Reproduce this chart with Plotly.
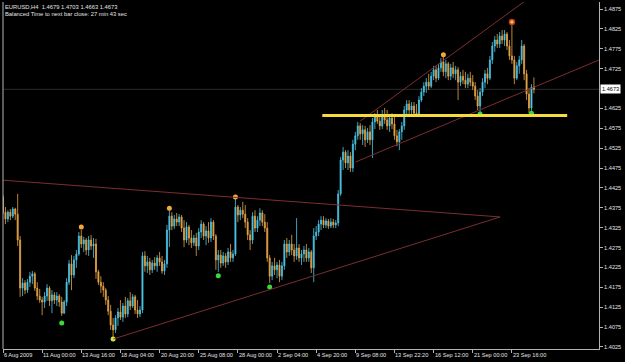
import plotly.graph_objects as go

# ---------------- data (EURUSD H4, prices) ----------------
bar_index = list(range(218))

open_ = [
1.4402,1.4364,1.4347,1.4364,1.4354,1.4372,1.4359,1.4294,1.4173,1.4186,
1.4168,1.4188,1.4203,1.4209,1.4173,1.4153,1.4143,1.4138,1.4153,1.4173,
1.4141,1.4156,1.4143,1.4153,1.4138,1.4110,1.4138,1.4188,1.4234,1.4206,
1.4244,1.4259,1.4304,1.4284,1.4294,1.4269,1.4294,1.4279,1.4284,1.4214,
1.4188,1.4178,1.4168,1.4143,1.4115,1.4080,1.4068,1.4098,1.4113,1.4100,
1.4128,1.4108,1.4141,1.4128,1.4151,1.4118,1.4108,1.4118,1.4254,1.4229,
1.4239,1.4219,1.4236,1.4229,1.4249,1.4239,1.4216,1.4234,1.4319,1.4354,
1.4329,1.4347,1.4339,1.4352,1.4324,1.4294,1.4327,1.4299,1.4287,1.4299,
1.4279,1.4314,1.4334,1.4304,1.4317,1.4299,1.4339,1.4304,1.4244,1.4256,
1.4236,1.4254,1.4239,1.4264,1.4249,1.4259,1.4377,1.4357,1.4369,1.4359,
1.4339,1.4307,1.4294,1.4354,1.4324,1.4344,1.4362,1.4339,1.4324,1.4249,
1.4203,1.4229,1.4219,1.4231,1.4203,1.4229,1.4284,1.4264,1.4284,1.4269,
1.4254,1.4274,1.4249,1.4259,1.4269,1.4249,1.4264,1.4224,1.4304,1.4314,
1.4334,1.4344,1.4332,1.4342,1.4329,1.4339,1.4332,1.4337,1.4410,1.4495,
1.4515,1.4488,1.4505,1.4475,1.4535,1.4556,1.4581,1.4561,1.4571,1.4546,
1.4566,1.4546,1.4591,1.4606,1.4593,1.4581,1.4608,1.4596,1.4581,1.4601,
1.4586,1.4556,1.4541,1.4566,1.4581,1.4621,1.4636,1.4621,1.4631,1.4613,
1.4608,1.4646,1.4666,1.4681,1.4691,1.4681,1.4706,1.4722,1.4701,1.4727,
1.4742,1.4717,1.4737,1.4706,1.4727,1.4712,1.4722,1.4691,1.4706,1.4696,
1.4686,1.4701,1.4691,1.4681,1.4656,1.4631,1.4666,1.4691,1.4712,1.4701,
1.4747,1.4782,1.4797,1.4787,1.4807,1.4797,1.4812,1.4782,1.4757,1.4747,
1.4701,1.4732,1.4747,1.4782,1.4712,1.4661,1.4626,1.4679]

high = [
1.4407,1.4377,1.4369,1.4372,1.4377,1.4375,1.4410,1.4304,1.4198,1.4193,
1.4196,1.4214,1.4216,1.4214,1.4188,1.4171,1.4151,1.4163,1.4183,1.4178,
1.4168,1.4163,1.4163,1.4158,1.4151,1.4143,1.4198,1.4244,1.4256,1.4254,
1.4269,1.4314,1.4319,1.4302,1.4299,1.4304,1.4307,1.4299,1.4297,1.4219,
1.4203,1.4188,1.4173,1.4153,1.4131,1.4098,1.4105,1.4123,1.4143,1.4136,
1.4151,1.4148,1.4163,1.4158,1.4156,1.4143,1.4128,1.4264,1.4266,1.4254,
1.4249,1.4244,1.4251,1.4256,1.4264,1.4254,1.4244,1.4332,1.4372,1.4364,
1.4357,1.4362,1.4359,1.4357,1.4344,1.4339,1.4332,1.4319,1.4307,1.4312,
1.4324,1.4344,1.4339,1.4329,1.4339,1.4349,1.4344,1.4309,1.4269,1.4269,
1.4264,1.4261,1.4274,1.4284,1.4269,1.4400,1.4382,1.4377,1.4390,1.4382,
1.4349,1.4319,1.4364,1.4369,1.4354,1.4374,1.4369,1.4359,1.4339,1.4256,
1.4239,1.4249,1.4239,1.4244,1.4239,1.4294,1.4299,1.4294,1.4307,1.4284,
1.4349,1.4284,1.4269,1.4279,1.4284,1.4274,1.4269,1.4324,1.4329,1.4344,
1.4354,1.4354,1.4349,1.4347,1.4349,1.4347,1.4344,1.4420,1.4503,1.4528,
1.4520,1.4520,1.4515,1.4546,1.4566,1.4591,1.4588,1.4583,1.4581,1.4576,
1.4583,1.4601,1.4613,1.4621,1.4608,1.4621,1.4626,1.4621,1.4608,1.4613,
1.4606,1.4571,1.4573,1.4591,1.4631,1.4646,1.4646,1.4641,1.4641,1.4636,
1.4656,1.4676,1.4691,1.4701,1.4712,1.4717,1.4732,1.4732,1.4737,1.4752,
1.4759,1.4747,1.4742,1.4737,1.4742,1.4732,1.4729,1.4717,1.4722,1.4717,
1.4712,1.4717,1.4709,1.4691,1.4671,1.4676,1.4701,1.4722,1.4727,1.4757,
1.4792,1.4807,1.4812,1.4817,1.4822,1.4822,1.4817,1.4797,1.4835,1.4757,
1.4742,1.4757,1.4797,1.4787,1.4722,1.4676,1.4686,1.4703]

low = [
1.4359,1.4334,1.4339,1.4344,1.4349,1.4344,1.4279,1.4151,1.4153,1.4158,
1.4161,1.4176,1.4183,1.4166,1.4143,1.4136,1.4105,1.4123,1.4141,1.4128,
1.4110,1.4133,1.4128,1.4126,1.4103,1.4108,1.4128,1.4181,1.4168,1.4198,
1.4224,1.4254,1.4274,1.4264,1.4256,1.4254,1.4269,1.4249,1.4196,1.4181,
1.4161,1.4151,1.4131,1.4105,1.4068,1.4048,1.4060,1.4078,1.4093,1.4088,
1.4098,1.4100,1.4118,1.4123,1.4108,1.4098,1.4100,1.4110,1.4214,1.4211,
1.4206,1.4211,1.4219,1.4214,1.4229,1.4209,1.4206,1.4224,1.4276,1.4319,
1.4322,1.4329,1.4329,1.4314,1.4276,1.4287,1.4281,1.4274,1.4279,1.4254,
1.4269,1.4299,1.4294,1.4281,1.4287,1.4289,1.4294,1.4219,1.4214,1.4224,
1.4229,1.4224,1.4231,1.4239,1.4239,1.4254,1.4339,1.4344,1.4349,1.4324,
1.4294,1.4269,1.4284,1.4314,1.4314,1.4329,1.4329,1.4314,1.4239,1.4186,
1.4193,1.4206,1.4198,1.4188,1.4193,1.4219,1.4249,1.4254,1.4256,1.4239,
1.4244,1.4239,1.4231,1.4239,1.4239,1.4239,1.4211,1.4188,1.4294,1.4304,
1.4319,1.4324,1.4324,1.4322,1.4324,1.4324,1.4324,1.4329,1.4405,1.4470,
1.4475,1.4470,1.4465,1.4465,1.4520,1.4546,1.4546,1.4533,1.4528,1.4538,
1.4533,1.4500,1.4573,1.4586,1.4571,1.4573,1.4586,1.4571,1.4566,1.4573,
1.4546,1.4530,1.4520,1.4546,1.4571,1.4606,1.4611,1.4606,1.4608,1.4606,
1.4606,1.4641,1.4656,1.4664,1.4671,1.4676,1.4696,1.4691,1.4696,1.4717,
1.4706,1.4701,1.4696,1.4696,1.4701,1.4696,1.4646,1.4681,1.4686,1.4676,
1.4676,1.4681,1.4671,1.4646,1.4621,1.4613,1.4656,1.4676,1.4686,1.4696,
1.4737,1.4767,1.4777,1.4777,1.4787,1.4782,1.4772,1.4747,1.4737,1.4686,
1.4696,1.4712,1.4737,1.4696,1.4646,1.4613,1.4613,1.4663]

close = [
1.4364,1.4347,1.4364,1.4354,1.4372,1.4359,1.4294,1.4173,1.4186,1.4168,
1.4188,1.4203,1.4209,1.4173,1.4153,1.4143,1.4138,1.4153,1.4173,1.4141,
1.4156,1.4143,1.4153,1.4138,1.4110,1.4138,1.4188,1.4234,1.4206,1.4244,
1.4259,1.4304,1.4284,1.4294,1.4269,1.4294,1.4279,1.4284,1.4214,1.4188,
1.4178,1.4168,1.4143,1.4115,1.4080,1.4068,1.4098,1.4113,1.4100,1.4128,
1.4108,1.4141,1.4128,1.4151,1.4118,1.4108,1.4118,1.4254,1.4229,1.4239,
1.4219,1.4236,1.4229,1.4249,1.4239,1.4216,1.4234,1.4319,1.4354,1.4329,
1.4347,1.4339,1.4352,1.4324,1.4294,1.4327,1.4299,1.4287,1.4299,1.4279,
1.4314,1.4334,1.4304,1.4317,1.4299,1.4339,1.4304,1.4244,1.4256,1.4236,
1.4254,1.4239,1.4264,1.4249,1.4259,1.4377,1.4357,1.4369,1.4359,1.4339,
1.4307,1.4294,1.4354,1.4324,1.4344,1.4362,1.4339,1.4324,1.4249,1.4203,
1.4229,1.4219,1.4231,1.4203,1.4229,1.4284,1.4264,1.4284,1.4269,1.4254,
1.4274,1.4249,1.4259,1.4269,1.4249,1.4264,1.4224,1.4304,1.4314,1.4334,
1.4344,1.4332,1.4342,1.4329,1.4339,1.4332,1.4337,1.4410,1.4495,1.4515,
1.4488,1.4505,1.4475,1.4535,1.4556,1.4581,1.4561,1.4571,1.4546,1.4566,
1.4546,1.4591,1.4606,1.4593,1.4581,1.4608,1.4596,1.4581,1.4601,1.4586,
1.4556,1.4541,1.4566,1.4581,1.4621,1.4636,1.4621,1.4631,1.4613,1.4608,
1.4646,1.4666,1.4681,1.4691,1.4681,1.4706,1.4722,1.4701,1.4727,1.4742,
1.4717,1.4737,1.4706,1.4727,1.4712,1.4722,1.4691,1.4706,1.4696,1.4686,
1.4701,1.4691,1.4681,1.4656,1.4631,1.4666,1.4691,1.4712,1.4701,1.4747,
1.4782,1.4797,1.4787,1.4807,1.4797,1.4812,1.4782,1.4757,1.4747,1.4701,
1.4732,1.4747,1.4782,1.4712,1.4661,1.4626,1.4679,1.4673]

# time axis labels (every 16 bars)
date_tick_bars = [0, 16, 32, 48, 64, 80, 96, 112, 128, 144, 160, 176, 192, 208]
date_tick_labels = ["6 Aug 2009", "11 Aug 00:00", "13 Aug 16:00", "18 Aug 04:00",
                    "20 Aug 20:00", "25 Aug 08:00", "28 Aug 00:00", "2 Sep 04:00",
                    "4 Sep 20:00", "9 Sep 08:00", "13 Sep 22:20", "16 Sep 12:00",
                    "21 Sep 00:00", "23 Sep 16:00"]

# price axis ticks
price_ticks = [1.4025, 1.4075, 1.4125, 1.4175, 1.4225, 1.4275, 1.4325, 1.4375,
               1.4425, 1.4475, 1.4525, 1.4575, 1.4625, 1.4725, 1.4775, 1.4825, 1.4875]
price_tick_labels = ["1.4025", "1.4075", "1.4125", "1.4175", "1.4225", "1.4275",
                     "1.4325", "1.4375", "1.4425", "1.4475", "1.4525", "1.4575",
                     "1.4625", "1.4725", "1.4775", "1.4825", "1.4875"]

# fractal markers
up_fractal_bars = [32, 68, 95, 180]
up_fractal_prices = [1.4327, 1.4374, 1.4402, 1.4760]
top_fractal_bar = [208]
top_fractal_price = [1.4842]
down_fractal_bars = [24, 88, 109, 195, 216]
down_fractal_prices = [1.4085, 1.4204, 1.4176, 1.4611, 1.4613]
anchor_low_bar = [45]
anchor_low_price = [1.4045]

# trend lines: (bar0, price0, bar1, price1)
trend_lines = [
    (-1.1, 1.4445, 203.2, 1.4352),    # triangle upper side
    (45.1, 1.4045, 203.2, 1.4352),    # triangle lower side
    (144.0, 1.4490, 243.7, 1.4747),   # channel lower line
    (146.0, 1.4593, 243.7, 1.5031),   # channel upper line
]
support_level = (130.5, 230.6, 1.4607)
bid_price = 1.4673

header_line1 = "EURUSD,H4  1.4679 1.4703 1.4663 1.4673"
header_line2 = "Balanced Time to next bar close: 27 min 43 sec"

# ---------------- styling ----------------
BULL = "#4cc6e6"
BEAR = "#e8a545"
AXIS = "#b4b4b4"
TXT = "#e4e4e4"
FONT = "Liberation Sans"
FS = 5.6
TREND = "#7c2e2e"

fig = go.Figure()
fig.add_trace(go.Candlestick(
    x=bar_index, open=open_, high=high, low=low, close=close,
    increasing=dict(line=dict(color=BULL, width=0.8), fillcolor=BULL),
    decreasing=dict(line=dict(color=BEAR, width=0.8), fillcolor=BEAR),
    whiskerwidth=0, showlegend=False, hoverinfo="skip"))

fig.add_trace(go.Scatter(x=up_fractal_bars, y=up_fractal_prices, mode="markers",
                         marker=dict(color="#f2aa35", size=5), showlegend=False, hoverinfo="skip"))
fig.add_trace(go.Scatter(x=top_fractal_bar, y=top_fractal_price, mode="markers",
                         marker=dict(color="#ffc040", size=5, line=dict(color="#c03a20", width=1.5)),
                         showlegend=False, hoverinfo="skip"))
fig.add_trace(go.Scatter(x=down_fractal_bars, y=down_fractal_prices, mode="markers",
                         marker=dict(color="#3ad83a", size=5), showlegend=False, hoverinfo="skip"))
fig.add_trace(go.Scatter(x=anchor_low_bar, y=anchor_low_price, mode="markers",
                         marker=dict(color="#d6e83a", size=5), showlegend=False, hoverinfo="skip"))

shapes = []
shapes.append(dict(type="line", xref="paper", yref="y", x0=0, x1=1, y0=bid_price, y1=bid_price,
                   line=dict(color="#2c2c2c", width=1), layer="below"))
for (b0, p0, b1, p1) in trend_lines:
    shapes.append(dict(type="line", xref="x", yref="y", x0=b0, y0=p0, x1=b1, y1=p1,
                       line=dict(color=TREND, width=1)))
shapes.append(dict(type="line", xref="x", yref="y", x0=support_level[0], x1=support_level[1],
                   y0=support_level[2], y1=support_level[2],
                   line=dict(color="#f6dc3a", width=3)))
shapes.append(dict(type="line", xref="paper", yref="paper", x0=0, x1=0, y0=0, y1=1,
                   line=dict(color=AXIS, width=1)))

annotations = []
for b, t in zip(date_tick_bars, date_tick_labels):
    annotations.append(dict(x=b, y=0, xref="x", yref="paper", text=t, showarrow=False,
                            xanchor="left", yanchor="top", xshift=-1, yshift=-1,
                            font=dict(family=FONT, size=FS, color=TXT)))
annotations.append(dict(x=1, y=bid_price, xref="paper", yref="y", text=f"{bid_price:.4f}",
                        showarrow=False, xanchor="left", yanchor="middle", xshift=1,
                        bgcolor="#ffffff", borderpad=1,
                        font=dict(family=FONT, size=FS, color="#000000")))
annotations.append(dict(x=0, y=1, xref="paper", yref="paper", text=header_line1, showarrow=False,
                        xanchor="left", yanchor="top", xshift=0, yshift=-0,
                        font=dict(family=FONT, size=FS + 0.2, color=TXT)))
annotations.append(dict(x=0, y=1, xref="paper", yref="paper", text=header_line2, showarrow=False,
                        xanchor="left", yanchor="top", xshift=0, yshift=-7,
                        font=dict(family=FONT, size=FS + 0.2, color=TXT)))

fig.update_layout(
    width=625, height=362,
    margin=dict(l=3, r=26, t=2, b=13, pad=0),
    paper_bgcolor="#000000", plot_bgcolor="#000000",
    boxgap=0.4,
    shapes=shapes, annotations=annotations,
    xaxis=dict(range=[0, 243.6], showgrid=False, zeroline=False, showline=True,
               linecolor=AXIS, linewidth=1, ticks="outside", ticklen=3, tickcolor=AXIS,
               tickvals=date_tick_bars, showticklabels=False,
               rangeslider=dict(visible=False), fixedrange=True),
    yaxis=dict(side="right", range=[1.40199, 1.48926], showgrid=False, zeroline=False,
               showline=True, linecolor=AXIS, linewidth=1, ticks="outside", ticklen=3,
               tickcolor=AXIS, tickvals=price_ticks, ticktext=price_tick_labels,
               tickfont=dict(family=FONT, size=FS, color=TXT), fixedrange=True),
    font=dict(family=FONT, size=FS, color=TXT),
)

fig.write_html("out.html")
